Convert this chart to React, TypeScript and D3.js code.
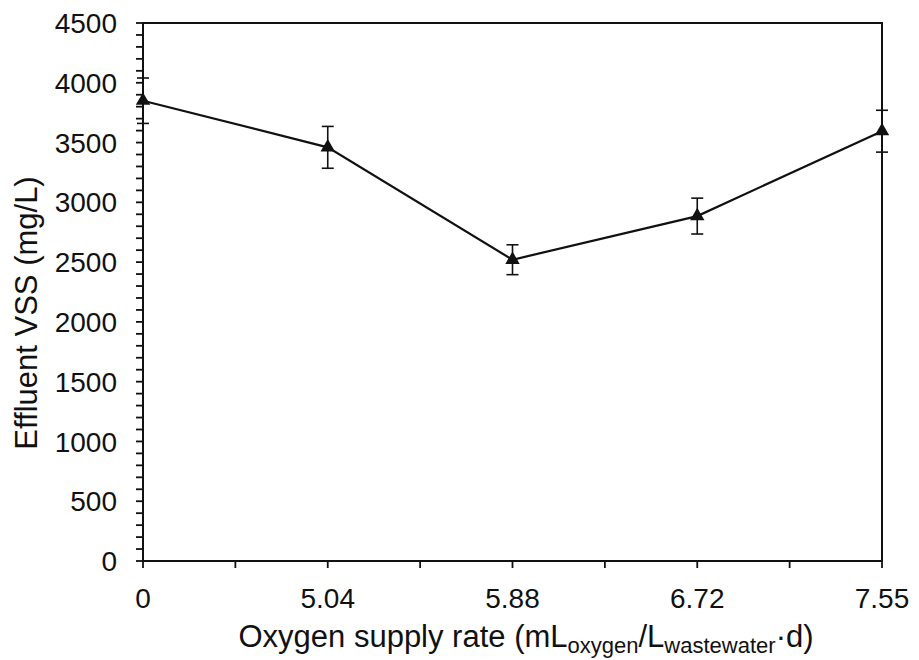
import React from "react";
import * as d3 from "d3";

// Oxygen supply rate categories (mL oxygen / L wastewater · d)
const categories = ["0", "5.04", "5.88", "6.72", "7.55"];
// Mean effluent VSS (mg/L) and error half-widths
const vssMean = [3850, 3460, 2520, 2885, 3595];
const vssErr = [190, 175, 125, 150, 175];
// Y axis ticks
const yMajorTicks = [0, 500, 1000, 1500, 2000, 2500, 3000, 3500, 4000, 4500];
const yMinorStep = 100;

const W = 919;
const H = 660;
const left = 143;
const right = 882;
const top = 23;
const bottom = 561;
const FONT = "'Liberation Sans', Arial, Helvetica, sans-serif";

export default function App() {
  const x = d3.scalePoint<string>().domain(categories).range([left, right]).padding(0);
  const y = d3.scaleLinear().domain([0, 4500]).range([bottom, top]);

  const step = x.step();
  const xTickPositions: number[] = [];
  categories.forEach((c, i) => {
    const px = x(c) as number;
    xTickPositions.push(px);
    if (i < categories.length - 1) xTickPositions.push(px + step / 2);
  });

  const yMinor = d3.range(0, 4500 + 1, yMinorStep);

  const pts = categories.map((c, i) => ({ cx: x(c) as number, v: vssMean[i], e: vssErr[i] }));
  const line = d3
    .line<{ cx: number; v: number }>()
    .x((d) => d.cx)
    .y((d) => y(d.v));
  const tri = d3.symbol().type(d3.symbolTriangle).size(90)();

  return (
    <svg width={W} height={H} style={{ position: "absolute", left: 0, top: 0, background: "#fff" }}>
      <rect x={0} y={0} width={W} height={H} fill="#fff" />
      {/* plot frame */}
      <rect x={left} y={top} width={right - left} height={bottom - top} fill="none" stroke="#111" strokeWidth={2} />

      {/* y ticks */}
      {yMinor.map((v) => (
        <line key={"ym" + v} x1={left - 7} x2={left} y1={y(v)} y2={y(v)} stroke="#111" strokeWidth={1.8} />
      ))}
      {yMajorTicks.map((v) => (
        <text
          key={"yl" + v}
          x={117}
          y={y(v)}
          dy="0.36em"
          textAnchor="end"
          fontFamily={FONT}
          fontSize={28}
          fill="#111"
        >
          {v}
        </text>
      ))}

      {/* x ticks */}
      {xTickPositions.map((px, i) => (
        <line key={"xt" + i} x1={px} x2={px} y1={bottom} y2={bottom + 7} stroke="#111" strokeWidth={1.8} />
      ))}
      {categories.map((c) => (
        <text
          key={"xl" + c}
          x={x(c) as number}
          y={608}
          textAnchor="middle"
          fontFamily={FONT}
          fontSize={28}
          fill="#111"
        >
          {c}
        </text>
      ))}

      {/* axis titles */}
      <text
        transform={`translate(37,313) rotate(-90)`}
        textAnchor="middle"
        fontFamily={FONT}
        fontSize={31}
        fill="#111"
      >
        Effluent VSS (mg/L)
      </text>
      <text x={526} y={647} textAnchor="middle" fontFamily={FONT} fontSize={31} fill="#111">
        Oxygen supply rate (mL
        <tspan fontSize={22} dy={6}>oxygen</tspan>
        <tspan dy={-6}>/L</tspan>
        <tspan fontSize={22} dy={6}>wastewater</tspan>
        <tspan dy={-6}>·d)</tspan>
      </text>

      {/* error bars */}
      {pts.map((p, i) => (
        <g key={"eb" + i} stroke="#111" strokeWidth={1.6}>
          <line x1={p.cx} x2={p.cx} y1={y(p.v - p.e)} y2={y(p.v + p.e)} />
          <line x1={p.cx - 6} x2={p.cx + 6} y1={y(p.v + p.e)} y2={y(p.v + p.e)} />
          <line x1={p.cx - 6} x2={p.cx + 6} y1={y(p.v - p.e)} y2={y(p.v - p.e)} />
        </g>
      ))}

      {/* series line */}
      <path d={line(pts) || ""} fill="none" stroke="#111" strokeWidth={2.2} />
      {pts.map((p, i) => (
        <path key={"m" + i} d={tri || ""} transform={`translate(${p.cx},${y(p.v)})`} fill="#111" />
      ))}
    </svg>
  );
}
